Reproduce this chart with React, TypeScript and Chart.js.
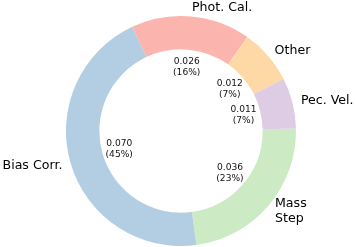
import React, { useEffect, useRef } from "react";
import { Chart, registerables } from "chart.js";

Chart.register(...registerables);

const categories = ["Mass\nStep", "Bias Corr.", "Phot. Cal.", "Other", "Pec. Vel."];
const values = [0.036, 0.07, 0.026, 0.012, 0.011];
const percents = [23, 45, 16, 7, 7];
const colors = ["#ccebc5", "#b3cde3", "#fbb4ae", "#fed9a6", "#decbe4"];

const labelPlugin = {
  id: "pieLabels",
  afterDatasetsDraw(chart: any) {
    const ctx = chart.ctx;
    const meta = chart.getDatasetMeta(0);
    ctx.save();
    meta.data.forEach((arc: any, i: number) => {
      const p = arc.getProps(["x", "y", "startAngle", "endAngle", "outerRadius"], true);
      const mid = (p.startAngle + p.endAngle) / 2;
      const c = Math.cos(mid);
      const s = Math.sin(mid);
      // outer label
      const lr = p.outerRadius * 1.075;
      const lx = p.x + c * lr;
      const ly = p.y + s * lr;
      ctx.font = "12.6px 'DejaVu Sans'";
      ctx.fillStyle = "#000";
      ctx.textAlign = c >= 0 ? "left" : "right";
      ctx.textBaseline = "middle";
      const lines = categories[i].split("\n");
      const lh = 15;
      lines.forEach((ln: string, k: number) => {
        ctx.fillText(ln, lx, ly + (k - (lines.length - 1) / 2) * lh);
      });
      // inner label
      const ir = p.outerRadius * 0.56;
      const ix = p.x + c * ir;
      const iy = p.y + s * ir;
      ctx.font = "9.1px 'DejaVu Sans'";
      ctx.fillStyle = "#111";
      ctx.textAlign = "center";
      const t = [values[i].toFixed(3), "(" + percents[i] + "%)"];
      t.forEach((ln, k) => {
        ctx.fillText(ln, ix, iy + (k - 0.5) * 11);
      });
    });
    ctx.restore();
  },
};

export default function App() {
  const ref = useRef<HTMLCanvasElement>(null);
  useEffect(() => {
    document.body.style.margin = "0";
    const chart = new Chart(ref.current!, {
      type: "doughnut",
      data: {
        labels: categories,
        datasets: [
          {
            data: values,
            backgroundColor: colors,
            borderWidth: 0,
            hoverOffset: 0,
          },
        ],
      },
      options: {
        animation: false,
        responsive: false,
        rotation: 88.7,
        cutout: "71%",
        layout: { padding: { top: 16, bottom: 1, left: 66, right: 59 } },
        plugins: { legend: { display: false }, tooltip: { enabled: false } },
      },
      plugins: [labelPlugin],
    });
    return () => chart.destroy();
  }, []);
  return (
    <div style={{ width: 355, height: 247, background: "#fff" }}>
      <canvas ref={ref} width={355} height={247} />
    </div>
  );
}
